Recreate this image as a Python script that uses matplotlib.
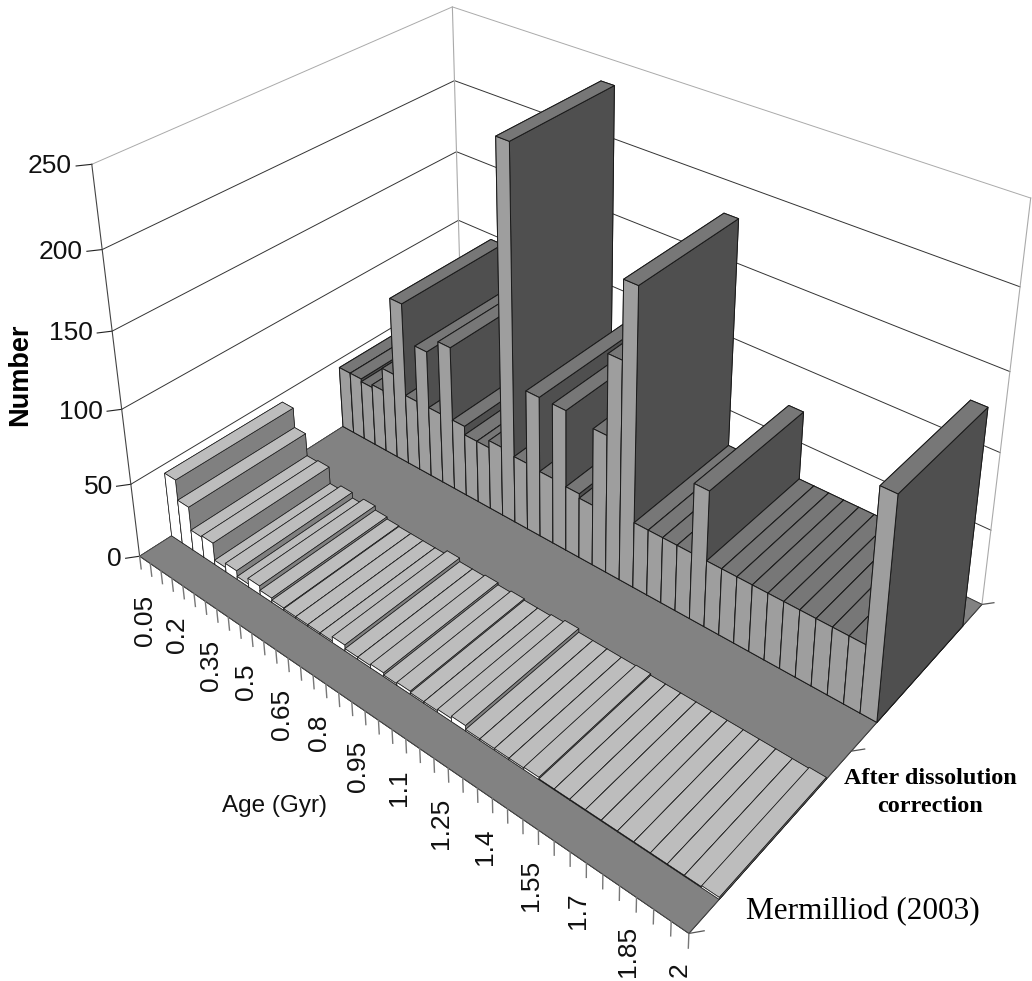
import numpy as np
import matplotlib
matplotlib.use('Agg')
import matplotlib.pyplot as plt
from mpl_toolkits.mplot3d import proj3d

plt.rcParams['font.family'] = ['Liberation Sans']

W, H = 1032, 981

age_labels = ['0.05', '0.2', '0.35', '0.5', '0.65', '0.8', '0.95', '1.1', '1.25', '1.4', '1.55', '1.7', '1.85', '2']
z_ticks = [0, 50, 100, 150, 200, 250]

mermilliod = [44, 30, 14, 15, 3, 6, 2, 6, 3, 1.5,
              1, 1, 1, 1, 4, 1.5, 1.5, 2.5, 1, 2,
              1, 1, 2, 3.5, 1, 1, 1, 1, 1.5, 0.5,
              0.5, 0.5, 0.5, 0.5, 0.5, 0.5, 0.5, 0.5, 0.5, 1.2]
corrected = [44, 44, 42, 44, 60, 113, 49, 88, 49, 99,
             49, 43, 43, 48, 247, 46, 95, 45, 95, 44,
             41, 92, 144, 193, 44, 44, 44, 44, 89, 44,
             44, 44, 44, 44, 44, 44, 44, 44, 44, 140]

# reference points of the box: (age slot, series, number) -> pixel
box_pts = [(0, 0, 0), (40, 0, 0), (40, 1, 0), (40, 2, 0), (0, 2, 0),
           (0, 0, 250), (0, 2, 250), (40, 2, 250),
           (0, 0, 200), (0, 0, 150), (0, 0, 100), (0, 0, 50),
           (0, 2, 200), (0, 2, 150), (0, 2, 100)]
box_pix = [(140, 555), (690, 933), (852, 752), (981, 605), (461, 352),
           (91, 166), (453, 7), (1030, 197),
           (102, 250), (112, 332), (121, 408), (131, 484),
           (455, 80), (457, 152), (459, 219)]


def fit_camera(ax):
    # the original has a stronger perspective than view_init gives, so solve the camera
    ax.apply_aspect()
    pix = np.array(box_pix, dtype=float)
    pix[:, 1] = H - pix[:, 1]
    uv = ax.transData.inverted().transform(pix) * 10
    rows = []
    for (x, y, z), (u, v) in zip(box_pts, uv):
        p = [x / 40, y / 2, z / 250, 1]
        rows.append(p + [0, 0, 0, 0] + [-u * c for c in p])
        rows.append([0, 0, 0, 0] + p + [-v * c for c in p])
    P = np.linalg.svd(np.array(rows))[2][-1].reshape(3, 4)
    P = P @ np.diag([1 / 40, 1 / 2, 1 / 250, 1])
    if P[2] @ np.array([20, 1, 100, 1]) < 0:
        P = -P
    return np.array([P[0] / 10, P[1] / 10, [0, 0, 0, -1], P[2]])


def draw_bars(ax, values, y0, top, side, end, order, lw):
    for i, v in enumerate(values):
        # faces: -z, +z, -y, +y, -x, +x
        ax.bar3d(i, y0, 0, 1, 0.66, v, color=[top, top, side, side, end, end], shade=False,
                 edgecolor='#1a1a1a', linewidth=lw, zorder=order + i)


def label_at(ax, x, y, z, text, drop=0, **kw):
    # Text3D forces its own angle, so place the labels in the 2D plane of the axes
    u, v, _ = proj3d.proj_transform(x, y, z, M)
    ax.annotate(text, xy=(u, v), xycoords='data', xytext=(0, -drop), textcoords='offset points',
                fontsize=19, color='#111111', zorder=300, **kw)


fig = plt.figure(figsize=(W / 100, H / 100), dpi=100)
ax = fig.add_axes([-0.1, -0.131, 1.2, 1.262], projection='3d')
ax.set_axis_off()
ax.computed_zorder = False
M = fit_camera(ax)
ax.get_proj = lambda: M

# walls
for z in z_ticks:
    c = '#aaaaaa' if z == 250 else '#333333'
    if z > 0:
        ax.plot([0, 0, 40], [0, 2, 2], [z, z, z], color=c, lw=0.7, zorder=1)
    ax.plot([-0.49, 0], [-0.046, 0], [z, z], color='#222222', lw=0.8, zorder=1)
    label_at(ax, -0.62, -0.058, z, str(z), ha='right', va='center')
ax.plot([0, 0], [0, 0], [0, 250], color='#444444', lw=0.8, zorder=1)
ax.plot([0, 0], [2, 2], [0, 250], color='#aaaaaa', lw=0.8, zorder=1)
ax.plot([40, 40], [2, 2], [0, 250], color='#aaaaaa', lw=0.8, zorder=1)

# floor
ax.bar3d(0, 0, 0, 40, 2, 0, color='#828282', shade=False, edgecolor='#444444', linewidth=0.6, zorder=2)

# ticks
for i in range(41):
    ax.plot([i, i], [0, 0], [0, -9], color='#777777', lw=1.0, zorder=3)
for s in range(3):
    ax.plot([40, 40.45], [s, s + 0.04], [0, 0], color='#555555', lw=0.9, zorder=3)
for k, lab in enumerate(age_labels):
    label_at(ax, 3 * k + 0.5, 0, 0, lab, drop=25, rotation=90, ha='center', va='top')

draw_bars(ax, corrected, 1.18, '#777777', '#9e9e9e', '#4f4f4f', 10, 0.7)
draw_bars(ax, mermilliod, 0.17, '#bdbdbd', '#ffffff', '#808080', 100, 0.5)

fig.text(20 / W, 1 - 375 / H, 'Number', rotation=90, ha='center', va='center', fontsize=19.5, fontweight='bold')
fig.text(275 / W, 1 - 806 / H, 'Age (Gyr)', ha='center', va='center', fontsize=17.5, color='#111111')
fig.text(930 / W, 1 - 778 / H, 'After dissolution', ha='center', va='center', fontsize=17.5, fontweight='bold',
         family='Liberation Serif')
fig.text(930 / W, 1 - 806 / H, 'correction', ha='center', va='center', fontsize=17.5, fontweight='bold',
         family='Liberation Serif')
fig.text(863 / W, 1 - 912 / H, 'Mermilliod (2003)', ha='center', va='center', fontsize=22.5,
         family='Liberation Serif')

fig.savefig('out.png', dpi=100)
